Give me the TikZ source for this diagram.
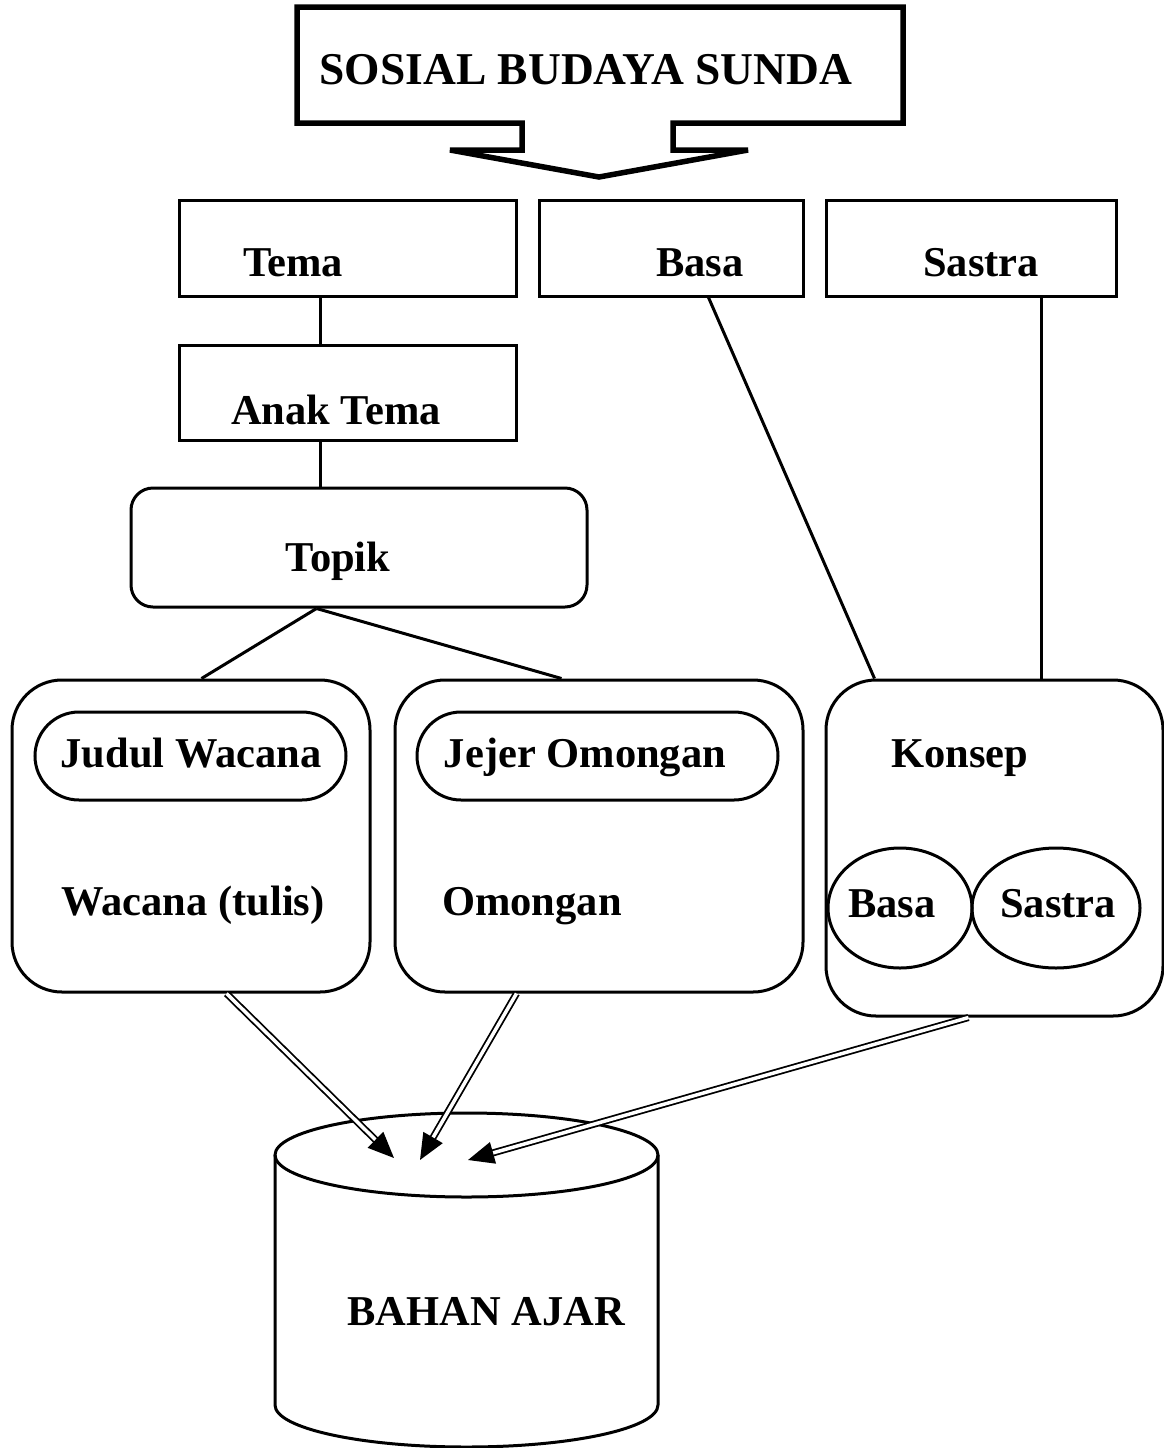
\documentclass[tikz,border=0pt]{standalone}
\usepackage{fontspec}
\setmainfont{Liberation Serif}
\usetikzlibrary{arrows.meta,calc,shapes.geometric}
\begin{document}
\begin{tikzpicture}[x=1pt,y=-1pt,
  box/.style={draw, line width=3pt, inner sep=0pt},
  lbl/.style={font=\bfseries\fontsize{42.5}{50}\selectfont, anchor=base, inner sep=0pt},
  conn/.style={line width=3pt},
  dbl/.style={double, double distance=3.5pt, line width=1.8pt, -{Triangle[length=26pt,width=22pt]}}]
\useasboundingbox[fill=white] (0,0) rectangle (1164,1448);

% top block arrow
\draw[line width=5.5pt, line join=miter] (297,7) -- (903,7) -- (903,123) -- (673,123) -- (673,150) -- (748,150) -- (599,177) -- (450,150) -- (522,150) -- (522,123) -- (297,123) -- cycle;
\node[lbl, font=\bfseries\fontsize{45.5}{54}\selectfont] (sbs) at (586,84) {SOSIAL BUDAYA SUNDA};

% first row
\node[box, minimum width=337pt, minimum height=96pt] (tema) at (347.5,248) {};
\node[lbl] (temaT) at (293,276) {Tema};
\node[box, minimum width=264pt, minimum height=96pt] (basa) at (671,248) {};
\node[lbl] (basaT) at (700,276) {Basa};
\node[box, minimum width=290pt, minimum height=96pt] (sastra) at (971,248) {};
\node[lbl] (sastraT) at (981,276) {Sastra};

% anak tema, topik
\node[box, minimum width=337pt, minimum height=95pt] (anak) at (347.5,392.5) {};
\node[lbl] (anakT) at (336,424) {Anak Tema};
\node[box, rounded corners=22pt, minimum width=456pt, minimum height=119pt] (topik) at (359,547.5) {};
\node[lbl] (topikT) at (338,571) {Topik};

% big boxes
\node[box, rounded corners=50pt, minimum width=358pt, minimum height=312pt] (wac) at (191,836) {};
\node[box, rounded corners=44pt, minimum width=311pt, minimum height=88pt] (judul) at (190.5,756) {};
\node[lbl] (judulT) at (191,767) {Judul Wacana};
\node[lbl] (wacT) at (193,915) {Wacana (tulis)};

\node[box, rounded corners=50pt, minimum width=408pt, minimum height=312pt] (omo) at (599,836) {};
\node[box, rounded corners=44pt, minimum width=361pt, minimum height=88pt] (jejer) at (597.5,756) {};
\node[lbl] (jejerT) at (585,767) {Jejer Omongan};
\node[lbl] (omoT) at (532,915) {Omongan};

\node[box, rounded corners=50pt, minimum width=337pt, minimum height=336pt] (kon) at (994.5,848) {};
\node[lbl] (konT) at (960,767) {Konsep};
\node[box, ellipse, minimum width=144pt, minimum height=120pt] (ebasa) at (900,908) {};
\node[box, ellipse, minimum width=168pt, minimum height=120pt] (esastra) at (1056,908) {};
\node[lbl] (ebasaT) at (892,917) {Basa};
\node[lbl] (esastraT) at (1058,917) {Sastra};

% cylinder
\draw[line width=3pt] (275,1155) -- (275,1405) arc[start angle=180, end angle=360, x radius=191.5, y radius=-42] -- (658,1155);
\draw[line width=3pt] (466.5,1155) ellipse[x radius=191.5, y radius=42];
\node[lbl] (bahan) at (486,1325) {BAHAN AJAR};
\coordinate (t1) at (394,1158);
\coordinate (t2) at (420,1160);
\coordinate (t3) at (468,1160);

% connectors
\draw[conn] ([xshift=143pt]tema.south west) -- ([xshift=143pt]anak.north west);
\draw[conn] ([xshift=143pt]anak.south west) -- ([xshift=191pt]topik.north west);
\draw[conn] ([xshift=187pt]topik.south west) -- ([xshift=191pt]wac.north west);
\draw[conn] ([xshift=187pt]topik.south west) -- ([xshift=168pt]omo.north west);
\draw[conn] ([xshift=171pt]basa.south west) -- ([xshift=50pt]kon.north west);
\draw[conn] ([xshift=217pt]sastra.south west) -- ([xshift=217pt]kon.north west);

\draw[dbl] ([xshift=216pt]wac.south west) -- (t1);
\draw[dbl] ([xshift=123pt]omo.south west) -- (t2);
\draw[dbl] ([xshift=144pt]kon.south west) -- (t3);
\end{tikzpicture}
\end{document}
